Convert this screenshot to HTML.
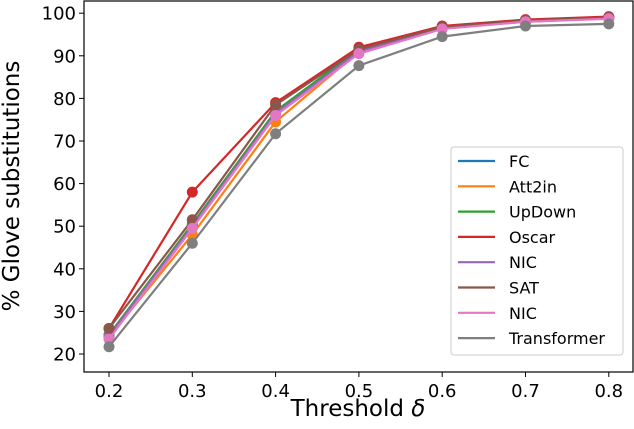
<!DOCTYPE html>
<html><head><meta charset="utf-8"><style>
body{margin:0;background:#fff;width:634px;height:424px;overflow:hidden}
svg text{font-family:"DejaVu Sans","Liberation Sans",sans-serif;fill:#000}
</style></head><body>
<svg id="chart" width="634" height="424" xmlns="http://www.w3.org/2000/svg"></svg>
<script>
const thresholds = [0.2,0.3,0.4,0.5,0.6,0.7,0.8];
const seriesNames = ["FC","Att2in","UpDown","Oscar","NIC","SAT","NIC","Transformer"];
const seriesColors = ["#1f77b4","#ff7f0e","#2ca02c","#d62728","#9467bd","#8c564b","#e377c2","#7f7f7f"];
const fcValues = [24.5,50,77,91,96.5,98.2,99];
const att2inValues = [24,48,74.5,91,96.5,98,98.8];
const upDownValues = [24.5,50.5,77,91.5,96.7,98.2,99];
const oscarValues = [26,58,79,92,97,98.5,99.2];
const nicValues = [24.2,50,76.5,91,96.5,98,98.9];
const satValues = [26,51.5,78.5,91.5,96.8,98.3,99];
const nic2Values = [23.5,49.5,76,90.5,96.3,98,98.7];
const transformerValues = [21.7,46,71.7,87.7,94.5,97,97.5];
const allSeries = [fcValues,att2inValues,upDownValues,oscarValues,nicValues,satValues,nic2Values,transformerValues];
const yTicks = [20,30,40,50,60,70,80,90,100];
const xTicks = ["0.2","0.3","0.4","0.5","0.6","0.7","0.8"];

const NS="http://www.w3.org/2000/svg", svg=document.getElementById('chart');
const L=84,R=633,T=1,B=372;
const xs=v=>109+(v-0.2)/0.1*83.3;
const ys=v=>354-(v-20)*4.26;
function mk(t,a,p){const e=document.createElementNS(NS,t);for(const k in a)e.setAttribute(k,a[k]);(p||svg).appendChild(e);return e;}

const frame=mk('rect',{x:L,y:T,width:R-L,height:B-T,fill:'none',stroke:'#000','stroke-width':1.2});



yTicks.forEach(v=>{
  const g=mk('g',{});
  
  
  mk('line',{x1:L-5,x2:L,y1:ys(v),y2:ys(v),stroke:'#000'},g);
  const t=mk('text',{x:L-8,y:ys(v)+6.5,'text-anchor':'end','font-size':18},g);t.textContent=v;
});
xTicks.forEach(s=>{
  const v=parseFloat(s);
  const g=mk('g',{});
  
  
  mk('line',{x1:xs(v),x2:xs(v),y1:B,y2:B+5,stroke:'#000'},g);
  const t=mk('text',{x:xs(v),y:B+25,'text-anchor':'middle','font-size':18},g);t.textContent=s;
});
const xt=mk('text',{x:358,y:416,'text-anchor':'middle','font-size':23});


xt.innerHTML='Threshold <tspan font-style="italic">δ</tspan>';
const yt=mk('text',{x:0,y:0,'text-anchor':'middle','font-size':23,transform:'translate(19,186) rotate(-90)'});


yt.textContent='% Glove substitutions';

allSeries.forEach((vals,i)=>{
  const g=mk('g',{});
  
  
  mk('polyline',{points:vals.map((v,j)=>xs(thresholds[j])+','+ys(v)).join(' '),fill:'none',stroke:seriesColors[i],'stroke-width':2.2},g);
  vals.forEach((v,j)=>{
    const c=mk('circle',{cx:xs(thresholds[j]),cy:ys(v),r:5.5,fill:seriesColors[i]},g);
    
    
  });
});

const lg=mk('g',{});


mk('rect',{x:451,y:147,width:172,height:208,rx:3,fill:'#fff','fill-opacity':0.8,stroke:'#ccc'},lg);
seriesNames.forEach((n,i)=>{
  const y=161+i*25.3;
  const e=mk('g',{},lg);
  
  
  mk('line',{x1:458,x2:495,y1:y,y2:y,stroke:seriesColors[i],'stroke-width':2.2},e);
  const t=mk('text',{x:509,y:y+6,'font-size':16},e);t.textContent=n;
});
</script>
</body></html>
